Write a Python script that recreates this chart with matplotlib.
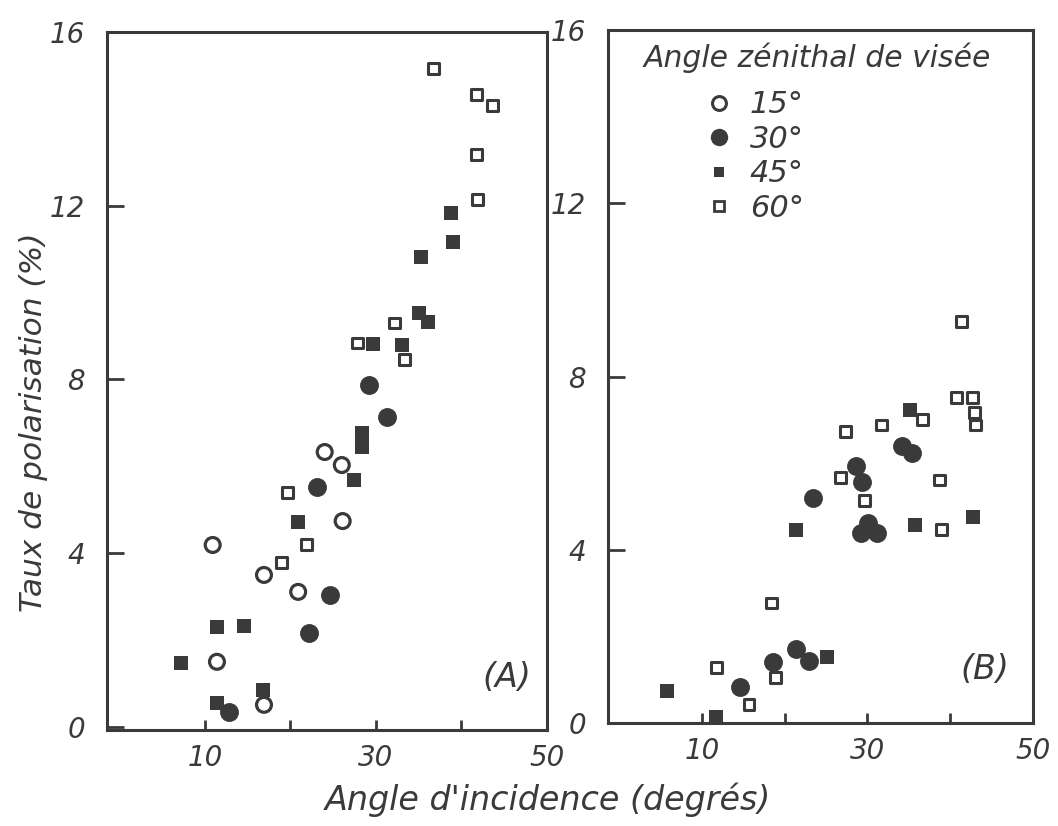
import matplotlib
matplotlib.use('Agg')
import matplotlib.pyplot as plt
from matplotlib.lines import Line2D

ink = '#3a3a3a'

# panel (A) : angle d'incidence (deg) / taux de polarisation (%)
a15_x = [24.0, 26.0, 26.1, 10.9, 16.9, 20.9, 11.4, 16.9]
a15_y = [6.33, 6.03, 4.74, 4.19, 3.50, 3.11, 1.50, 0.51]
a30_x = [29.2, 31.3, 23.1, 24.6, 22.2, 12.8]
a30_y = [7.87, 7.14, 5.52, 3.04, 2.16, 0.35]
a45_x = [38.8, 39.0, 35.3, 35.0, 36.1, 29.7, 33.0, 28.4, 28.4, 27.4, 20.9, 11.4, 14.6, 7.2, 16.8, 11.4]
a45_y = [11.83, 11.16, 10.82, 9.53, 9.32, 8.82, 8.79, 6.77, 6.45, 5.69, 4.72, 2.30, 2.33, 1.47, 0.85, 0.55]
a60_x = [36.7, 41.8, 43.6, 41.7, 41.9, 32.2, 27.8, 33.3, 19.6, 21.9, 18.9]
a60_y = [15.17, 14.57, 14.30, 13.19, 12.15, 9.30, 8.84, 8.47, 5.39, 4.19, 3.78]

# panel (B)
b30_x = [34.2, 35.4, 28.6, 29.4, 23.4, 30.1, 29.2, 31.1, 21.4, 23.0, 18.6, 14.6]
b30_y = [6.40, 6.24, 5.94, 5.57, 5.20, 4.62, 4.39, 4.39, 1.71, 1.43, 1.41, 0.83]
b45_x = [35.2, 21.4, 35.8, 42.7, 25.1, 5.8, 11.7]
b45_y = [7.23, 4.46, 4.57, 4.76, 1.52, 0.74, 0.14]
b60_x = [41.4, 40.8, 42.7, 42.9, 43.0, 36.6, 31.7, 27.4, 26.8, 38.7, 29.6, 38.9, 18.4, 11.8, 18.9, 15.7]
b60_y = [9.26, 7.51, 7.51, 7.16, 6.88, 7.00, 6.88, 6.74, 5.66, 5.61, 5.13, 4.46, 2.77, 1.29, 1.06, 0.42]

angles = ['15°', '30°', '45°', '60°']
yticks = [0, 4, 8, 12, 16]
xticks = [10, 20, 30, 40, 50]
xlabels = ['10', '', '30', '', '50']

narrow = ['Liberation Sans Narrow', 'DejaVu Sans']
num_font = dict(family=narrow, style='italic', size=20)

fig = plt.figure(figsize=(10.58, 8.26), dpi=100)
axA = fig.add_axes([107/1058, 96/826, 440/1058, 698/826])
axB = fig.add_axes([608/1058, 103/826, 425/1058, 693/826])


def open_circ(ax, x, y):
    ax.scatter(x, y, s=115, marker='o', facecolors='none', edgecolors=ink, linewidths=2.3, clip_on=False, zorder=3)


def full_circ(ax, x, y):
    ax.scatter(x, y, s=185, marker='o', color=ink, linewidths=0, clip_on=False, zorder=3)


def full_sq(ax, x, y):
    ax.scatter(x, y, s=95, marker='s', color=ink, linewidths=0, clip_on=False, zorder=3)


def open_sq(ax, x, y):
    ax.scatter(x, y, s=62, marker='s', facecolors='none', edgecolors=ink, linewidths=2.2, clip_on=False, zorder=3)


open_circ(axA, a15_x, a15_y)
full_circ(axA, a30_x, a30_y)
full_sq(axA, a45_x, a45_y)
open_sq(axA, a60_x, a60_y)

full_circ(axB, b30_x, b30_y)
full_sq(axB, b45_x, b45_y)
open_sq(axB, b60_x, b60_y)

axA.set_xlim(-1.46, 50)
axA.set_ylim(-0.07, 16.0)
axB.set_xlim(-1.33, 50)
axB.set_ylim(0, 16.0)

for ax in (axA, axB):
    for sp in ax.spines.values():
        sp.set_color(ink)
        sp.set_linewidth(2.2)
    ax.set_xticks(xticks)
    ax.set_xticklabels(xlabels, fontdict=num_font, color=ink)
    ax.set_yticks(yticks)
    ax.set_yticklabels([str(t) for t in yticks], fontdict=num_font, color=ink)
    ax.tick_params(axis='x', direction='in', length=7, width=2, color=ink, pad=10)
    ax.tick_params(axis='y', direction='in', length=12, width=2, color=ink, pad=16)

axA.text(0.909, 0.075, '(A)', transform=axA.transAxes, ha='center', va='center',
         family='DejaVu Sans', style='italic', size=24, color=ink)
axB.text(0.887, 0.077, '(B)', transform=axB.transAxes, ha='center', va='center',
         family='DejaVu Sans', style='italic', size=24, color=ink)

# legend
axB.text(0.492, 0.96, 'Angle zénithal de visée', transform=axB.transAxes, ha='center', va='center',
         family='DejaVu Sans', style='italic', size=21.5, color=ink)
handles = [
    Line2D([], [], ls='none', marker='o', ms=10, mfc='none', mec=ink, mew=2.2),
    Line2D([], [], ls='none', marker='o', ms=12.5, mfc=ink, mec=ink, mew=0),
    Line2D([], [], ls='none', marker='s', ms=7.5, mfc=ink, mec=ink, mew=0),
    Line2D([], [], ls='none', marker='s', ms=7, mfc='none', mec=ink, mew=2),
]
axB.legend(handles, angles, loc='upper left', bbox_to_anchor=(0.197, 0.935), frameon=False,
           handlelength=0.8, handletextpad=0.6, labelspacing=0.18, borderpad=0,
           prop=dict(family=narrow, style='italic', size=22),
           labelcolor=ink)

fig.text(548/1058, 1 - 800/826, "Angle d'incidence (degrés)", ha='center', va='center',
         family='DejaVu Sans', style='italic', size=24, color=ink)
fig.text(34/1058, 1 - 422/826, 'Taux de polarisation (%)', ha='center', va='center', rotation=90,
         family='DejaVu Sans', style='italic', size=22.5, color=ink)

fig.savefig('out.png', dpi=100, facecolor='white')
